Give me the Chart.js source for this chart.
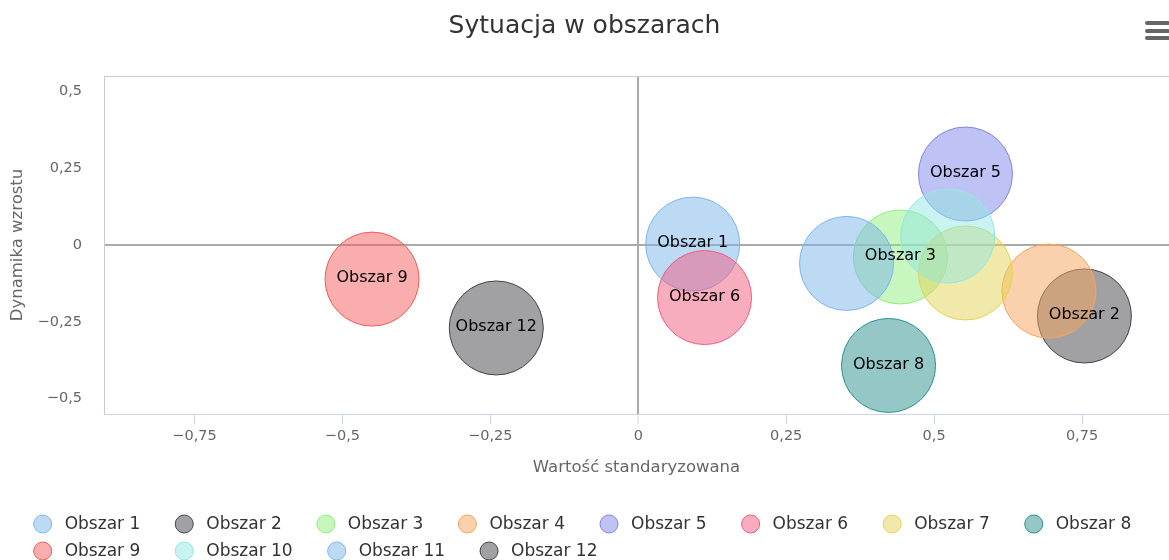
<!DOCTYPE html>
<html>
<head>
<meta charset="utf-8">
<script src="https://cdn.jsdelivr.net/npm/chart.js@4/dist/chart.umd.min.js"></script>
<style>
    body { margin: 0; background: #fff; }
</style>
</head>
<body>
<canvas id="myChart" width="1169" height="560"></canvas>
<script>
var names = ['Obszar 1', 'Obszar 2', 'Obszar 3', 'Obszar 4', 'Obszar 5', 'Obszar 6',
    'Obszar 7', 'Obszar 8', 'Obszar 9', 'Obszar 10', 'Obszar 11', 'Obszar 12'];
var xValues = [0.092, 0.754, 0.443, 0.694, 0.553, 0.112, 0.553, 0.423, -0.450, 0.523, 0.352, -0.240];
var yValues = [0.003, -0.231, -0.039, -0.150, 0.231, -0.171, -0.091, -0.392, -0.111, 0.029, -0.060, -0.270];
// labels that stay visible (the others are hidden by overlap)
var labelled = [true, true, true, false, true, true, false, true, true, false, false, true];
var xTicks = [-0.75, -0.5, -0.25, 0, 0.25, 0.5, 0.75];
var yTicks = [-0.5, -0.25, 0, 0.25, 0.5];

var palette = ['#7cb5ec', '#434348', '#90ed7d', '#f7a35c', '#8085e9', '#f15c80',
    '#e4d354', '#2b908f', '#f45b5b', '#91e8e1', '#7cb5ec', '#434348'];

function fade(hex, a) {
    var n = parseInt(hex.slice(1), 16);
    return 'rgba(' + (n >> 16) + ',' + ((n >> 8) & 255) + ',' + (n & 255) + ',' + a + ')';
}

function plNumber(v) {
    return String(v).replace('.', ',').replace('-', '\u2212');
}

Chart.defaults.font.family = '"DejaVu Sans", sans-serif';

var datasets = names.map(function(name, i) {
    return {
        label: name,
        data: [{x: xValues[i], y: yValues[i]}],
        backgroundColor: fade(palette[i], 0.5),
        borderColor: palette[i],
        borderWidth: 1,
        radius: 47,
        order: names.length - i
    };
});

// zero lines only, light tick marks
function zeroColor(ctx) {
    return ctx.tick && ctx.tick.value === 0 ? '#aaaaaa' : 'rgba(0,0,0,0)';
}
function zeroWidth(ctx) {
    return ctx.tick && ctx.tick.value === 0 ? 2 : 1;
}

var bubbleLabels = {
    id: 'bubbleLabels',
    afterDatasetsDraw: function(chart) {
        var ctx = chart.ctx;
        ctx.save();
        ctx.font = '16px "DejaVu Sans"';
        ctx.fillStyle = '#000000';
        ctx.textAlign = 'center';
        ctx.textBaseline = 'middle';
        chart.data.datasets.forEach(function(ds, i) {
            if (!labelled[i]) return;
            var el = chart.getDatasetMeta(i).data[0];
            ctx.fillText(ds.label, el.x, el.y - 1);
        });
        ctx.restore();
    }
};

var plotFrame = {
    id: 'plotFrame',
    beforeDatasetsDraw: function(chart) {
        var a = chart.chartArea, ctx = chart.ctx;
        ctx.save();
        ctx.strokeStyle = '#cccccc';
        ctx.lineWidth = 1;
        ctx.beginPath();
        ctx.moveTo(a.left, a.top + 0.5);
        ctx.lineTo(a.right, a.top + 0.5);
        ctx.stroke();
        ctx.restore();
    }
};

var bubbleLegend = {
    id: 'bubbleLegend',
    afterDraw: function(chart) {
        var ctx = chart.ctx;
        var r = 9, symGap = 13, itemGap = 35, rowH = 27;
        ctx.save();
        ctx.font = '17px "DejaVu Sans"';
        var items = chart.data.datasets.map(function(ds) {
            return {ds: ds, w: 2 * r + symGap + ctx.measureText(ds.label).width};
        });
        var maxW = chart.width - 40;
        var rows = [[]], rowW = 0;
        items.forEach(function(it) {
            var row = rows[rows.length - 1];
            var add = (row.length ? itemGap : 0) + it.w;
            if (row.length && rowW + add > maxW) {
                rows.push([it]);
                rowW = it.w;
            } else {
                row.push(it);
                rowW += add;
            }
        });
        var widest = 0;
        rows.forEach(function(row) {
            var w = row.reduce(function(s, it, k) { return s + it.w + (k ? itemGap : 0); }, 0);
            widest = Math.max(widest, w);
        });
        var startX = (chart.width - widest) / 2 - 2;
        ctx.textBaseline = 'middle';
        ctx.textAlign = 'left';
        rows.forEach(function(row, ri) {
            var x = startX;
            var y = chart.height - 36 + ri * rowH;
            row.forEach(function(it) {
                ctx.beginPath();
                ctx.arc(x + r, y, r, 0, Math.PI * 2);
                ctx.fillStyle = it.ds.backgroundColor;
                ctx.fill();
                ctx.strokeStyle = it.ds.borderColor;
                ctx.lineWidth = 1;
                ctx.stroke();
                ctx.fillStyle = '#333333';
                ctx.fillText(it.ds.label, x + 2 * r + symGap, y + 1);
                x += it.w + itemGap;
            });
        });
        ctx.restore();
    }
};

var menuIcon = {
    id: 'menuIcon',
    afterDraw: function(chart) {
        var ctx = chart.ctx;
        ctx.save();
        ctx.strokeStyle = '#666666';
        ctx.lineWidth = 4;
        ctx.lineCap = 'round';
        [23, 31, 38].forEach(function(y) {
            ctx.beginPath();
            ctx.moveTo(chart.width - 22, y);
            ctx.lineTo(chart.width - 1, y);
            ctx.stroke();
        });
        ctx.restore();
    }
};

var ctx = document.getElementById('myChart').getContext('2d');
var myChart = new Chart(ctx, {
    type: 'bubble',
    data: { datasets: datasets },
    plugins: [plotFrame, bubbleLabels, bubbleLegend, menuIcon],
    options: {
        responsive: false,
        devicePixelRatio: 1,
        animation: false,
        events: [],
        layout: { autoPadding: false, padding: { left: 0, right: 0, top: 0, bottom: 72 } },
        plugins: {
            legend: { display: false },
            tooltip: { enabled: false },
            title: {
                display: true,
                text: 'Sytuacja w obszarach',
                color: '#333333',
                font: { size: 25, weight: 'normal' },
                padding: { top: 11, bottom: 35 }
            }
        },
        scales: {
            x: {
                type: 'linear',
                min: -0.903,
                max: 0.897,
                afterBuildTicks: function(scale) {
                    scale.ticks = xTicks.map(function(v) { return {value: v}; });
                },
                afterFit: function(scale) { scale.height = 74; },
                grid: {
                    color: zeroColor,
                    lineWidth: zeroWidth,
                    tickColor: '#ccd6eb',
                    tickWidth: 1,
                    tickLength: 10
                },
                border: { display: true, color: '#ccd6eb', width: 1 },
                ticks: {
                    color: '#666666',
                    font: { size: 14.5 },
                    padding: 4,
                    maxRotation: 0,
                    autoSkip: false,
                    callback: function(v) { return plNumber(v); }
                },
                title: {
                    display: true,
                    text: 'Wartość standaryzowana',
                    color: '#666666',
                    font: { size: 16.5 },
                    padding: { top: 0, bottom: 10 }
                }
            },
            y: {
                type: 'linear',
                min: -0.55,
                max: 0.55,
                afterBuildTicks: function(scale) {
                    scale.ticks = yTicks.map(function(v) { return {value: v}; });
                },
                afterFit: function(scale) { scale.width = 104; },
                grid: {
                    color: zeroColor,
                    lineWidth: zeroWidth,
                    drawTicks: false
                },
                border: { display: true, color: '#cccccc', width: 1 },
                ticks: {
                    color: '#666666',
                    font: { size: 14.5 },
                    padding: 22,
                    callback: function(v) { return plNumber(v); }
                },
                title: {
                    display: true,
                    text: 'Dynamika wzrostu',
                    color: '#666666',
                    font: { size: 16.5 },
                    padding: { top: 8, bottom: 0 }
                }
            }
        }
    }
});
</script>
</body>
</html>
